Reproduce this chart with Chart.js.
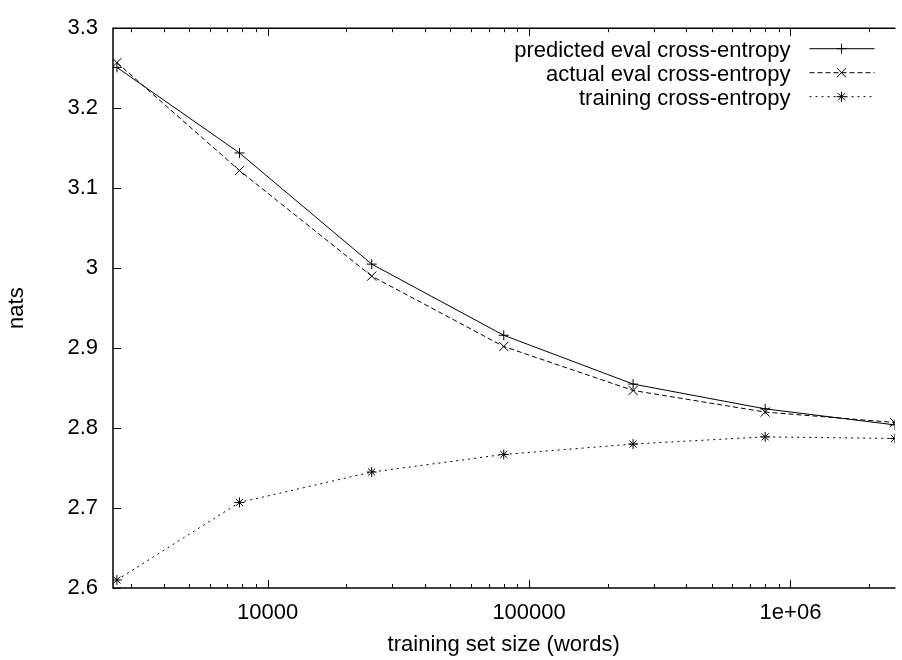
<!DOCTYPE html>
<html>
<head>
<meta charset="utf-8">
<script src="https://cdn.jsdelivr.net/npm/chart.js@4.4.1/dist/chart.umd.min.js"></script>
<style>
  html, body { margin: 0; padding: 0; background: #fff; }
  #wrap { width: 902px; height: 660px; }
</style>
</head>
<body>
<div id="wrap"><canvas id="chartLine"></canvas></div>
<script>
// values
const trainingSizes = [2650, 7800, 25000, 80000, 250000, 800000, 2500000];
const predictedEval = [3.251, 3.144, 3.005, 2.916, 2.855, 2.824, 2.804];
const actualEval    = [3.257, 3.122, 2.990, 2.902, 2.847, 2.820, 2.807];
const trainingCE    = [2.610, 2.707, 2.745, 2.767, 2.780, 2.789, 2.787];
const seriesNames = ["predicted eval cross-entropy", "actual eval cross-entropy", "training cross-entropy"];

const xMajorTicks = [10000, 100000, 1000000];
const xTickLabels = ["10000", "100000", "1e+06"];
const yTicks = [2.6, 2.7, 2.8, 2.9, 3, 3.1, 3.2, 3.3];
const yTickLabels = ["2.6", "2.7", "2.8", "2.9", "3", "3.1", "3.2", "3.3"];
const xMin = 2560, xMax = 2500000;

// minor ticks 2..9 x each decade inside the range
const xMinorTicks = [];
for (let d = 1000; d <= 1000000; d *= 10) {
  for (let m = 2; m <= 9; m++) {
    const v = m * d;
    if (v >= xMin && v <= xMax) xMinorTicks.push(v);
  }
}

const toPoints = (ys) => trainingSizes.map((x, i) => ({ x: x, y: ys[i] }));

Chart.defaults.font.family = "'Liberation Sans', Arial, sans-serif";
Chart.defaults.font.size = 22;
Chart.defaults.color = "#000";

function drawMarker(ctx, style, r, x, y) {
  ctx.beginPath();
  if (style === "cross" || style === "star") {
    ctx.moveTo(x - r, y); ctx.lineTo(x + r, y);
    ctx.moveTo(x, y - r); ctx.lineTo(x, y + r);
  }
  if (style === "crossRot" || style === "star") {
    const h = r * Math.SQRT1_2;
    ctx.moveTo(x - h, y - h); ctx.lineTo(x + h, y + h);
    ctx.moveTo(x - h, y + h); ctx.lineTo(x + h, y - h);
  }
  ctx.stroke();
}

const frame = {
  id: "frame",
  afterDatasetsDraw(chart) {
    const { ctx, chartArea: a, scales: { x, y } } = chart;
    ctx.save();
    ctx.strokeStyle = "#000";
    ctx.lineWidth = 1.5;
    ctx.setLineDash([]);
    ctx.beginPath();
    ctx.moveTo(a.right + 1, a.top);
    ctx.lineTo(a.left, a.top);
    ctx.lineTo(a.left, a.bottom);
    ctx.lineTo(a.right + 1, a.bottom);
    ctx.stroke();
    ctx.lineWidth = 1;
    ctx.beginPath();
    xMajorTicks.concat(xMinorTicks).forEach(v => {
      const len = xMajorTicks.includes(v) ? 8 : 4;
      const px = Math.round(x.getPixelForValue(v)) + 0.5;
      ctx.moveTo(px, a.bottom); ctx.lineTo(px, a.bottom - len);
      ctx.moveTo(px, a.top); ctx.lineTo(px, a.top + len);
    });
    yTicks.forEach(v => {
      const py = Math.round(y.getPixelForValue(v)) + 0.5;
      ctx.moveTo(a.left, py); ctx.lineTo(a.left + 8, py);
    });
    ctx.stroke();
    ctx.restore();
  }
};

const keyBox = {
  id: "keyBox",
  afterDraw(chart) {
    const { ctx, chartArea: a } = chart;
    ctx.save();
    ctx.font = "22px 'Liberation Sans', Arial, sans-serif";
    ctx.fillStyle = "#000";
    ctx.textAlign = "right";
    ctx.textBaseline = "alphabetic";
    chart.data.datasets.forEach((ds, i) => {
      const yy = a.top + 20.5 + i * 24;
      ctx.fillText(ds.label, a.right - 104, yy + 8);
      ctx.strokeStyle = ds.borderColor;
      ctx.lineWidth = 1;
      ctx.setLineDash(ds.borderDash || []);
      ctx.beginPath();
      ctx.moveTo(a.right - 85, yy);
      ctx.lineTo(a.right - 20, yy);
      ctx.stroke();
      ctx.setLineDash([]);
      drawMarker(ctx, ds.pointStyle, ds.pointRadius, a.right - 53, yy);
    });
    ctx.restore();
  }
};

const ctx = document.getElementById("chartLine").getContext("2d");

new Chart(ctx, {
  type: "line",
  data: {
    datasets: [
      {
        label: seriesNames[0],
        data: toPoints(predictedEval),
        borderColor: "#000",
        borderWidth: 1,
        pointStyle: "cross",
        pointRadius: 5,
        pointBorderWidth: 1,
        pointBorderColor: "#000",
        fill: false,
      },
      {
        label: seriesNames[1],
        data: toPoints(actualEval),
        borderColor: "#000",
        borderWidth: 1,
        borderDash: [5, 3],
        pointStyle: "crossRot",
        pointRadius: 6.5,
        pointBorderWidth: 1,
        pointBorderColor: "#000",
        fill: false,
      },
      {
        label: seriesNames[2],
        data: toPoints(trainingCE),
        borderColor: "#000",
        borderWidth: 1,
        borderDash: [2, 4],
        pointStyle: "star",
        pointRadius: 5,
        pointBorderWidth: 1,
        pointBorderColor: "#000",
        fill: false,
      },
    ],
  },
  options: {
    responsive: true,
    maintainAspectRatio: false,
    devicePixelRatio: 1,
    animation: false,
    layout: { padding: { top: 17, right: 0, left: 0, bottom: 0 } },
    plugins: { legend: { display: false }, tooltip: { enabled: false } },
    scales: {
      x: {
        type: "logarithmic",
        min: xMin,
        max: xMax,
        bounds: "data",
        offset: false,
        afterBuildTicks: (scale) => {
          scale.ticks = xMinorTicks.concat(xMajorTicks).sort((p, q) => p - q)
            .map(v => ({ value: v, major: xMajorTicks.includes(v) }));
        },
        afterFit: (scale) => { scale.height = 72; },
        grid: { display: false, drawTicks: false },
        border: { display: false },
        ticks: {
          autoSkip: false,
          maxRotation: 0,
          padding: 12,
          callback: (v) => {
            const k = xMajorTicks.indexOf(v);
            return k >= 0 ? xTickLabels[k] : "";
          },
        },
        title: { display: true, text: "training set size (words)", padding: { top: 0, bottom: 2 } },
      },
      y: {
        min: 2.6,
        max: 3.3,
        afterBuildTicks: (scale) => {
          scale.ticks = yTicks.map(v => ({ value: v }));
        },
        afterFit: (scale) => { scale.width = 113; },
        grid: { display: false, drawTicks: false },
        border: { display: false },
        ticks: {
          padding: 15,
          callback: (v) => {
            const k = yTicks.findIndex(t => Math.abs(t - v) < 1e-9);
            return k >= 0 ? yTickLabels[k] : "";
          },
        },
        title: { display: true, text: "nats", padding: { top: 4, bottom: 0 } },
      },
    },
  },
  plugins: [frame, keyBox],
});
</script>
</body>
</html>
